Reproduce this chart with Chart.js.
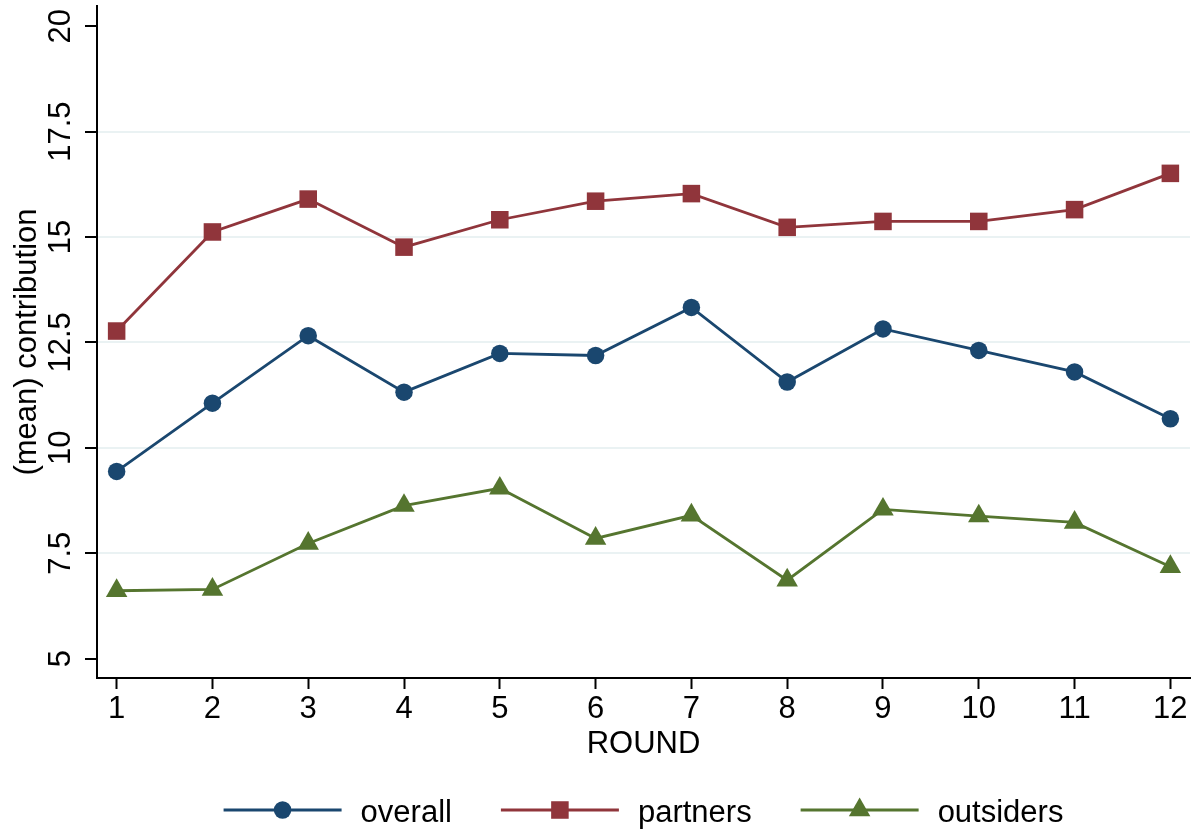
<!DOCTYPE html>
<html>
<head>
<meta charset="utf-8">
<title>Mean contribution by round</title>
<script src="https://cdn.jsdelivr.net/npm/chart.js@4.4.1/dist/chart.umd.min.js"></script>
<style>
  html, body { margin: 0; padding: 0; background: #fff; }
  canvas { display: block; }
</style>
</head>
<body>
<canvas id="contribChart" width="1195" height="829"></canvas>
<script>
// Mean contribution per round, by group
const rounds = [1, 2, 3, 4, 5, 6, 7, 8, 9, 10, 11, 12];
const overall = [9.44, 11.06, 12.66, 11.32, 12.24, 12.19, 13.33, 11.56, 12.82, 12.31, 11.80, 10.69];
const partners = [12.77, 15.12, 15.90, 14.76, 15.41, 15.85, 16.03, 15.23, 15.37, 15.37, 15.65, 16.51];
const outsiders = [6.61, 6.64, 7.73, 8.63, 9.04, 7.85, 8.40, 6.86, 8.54, 8.38, 8.23, 7.18];
const yTicks = [5, 7.5, 10, 12.5, 15, 17.5, 20];

const FONT = '"Liberation Sans", Arial, Helvetica, sans-serif';
const COLORS = { overall: '#1a476f', partners: '#90353b', outsiders: '#55752f' };

function series(label, values, color, style, radius) {
  return {
    label: label,
    data: rounds.map((r, i) => ({ x: r, y: values[i] })),
    borderColor: color,
    backgroundColor: color,
    borderWidth: 2.8,
    tension: 0,
    pointStyle: style,
    pointRadius: radius,
    pointHoverRadius: radius,
    pointBackgroundColor: color,
    pointBorderWidth: 0,
    clip: false
  };
}

// y tick labels are drawn rotated, reading bottom to top
const rotatedYTicks = {
  id: 'rotatedYTicks',
  afterDraw(chart) {
    const scale = chart.scales.y;
    const ctx = chart.ctx;
    ctx.save();
    ctx.fillStyle = '#000';
    ctx.font = '31px ' + FONT;
    ctx.textAlign = 'center';
    ctx.textBaseline = 'alphabetic';
    scale.ticks.forEach(t => {
      ctx.save();
      ctx.translate(scale.right - 27, scale.getPixelForValue(t.value));
      ctx.rotate(-Math.PI / 2);
      ctx.fillText(String(t.value), 0, 0);
      ctx.restore();
    });
    ctx.restore();
  }
};

// legend: line with marker in the middle, then the label
const lineLegend = {
  id: 'lineLegend',
  afterDraw(chart) {
    const ctx = chart.ctx;
    const area = chart.chartArea;
    const lineLen = 118, textGap = 19, itemGap = 49;
    const yMid = 810;
    ctx.save();
    ctx.font = '31px ' + FONT;
    const items = chart.data.datasets.map(ds => ({ ds: ds, w: ctx.measureText(ds.label).width }));
    const total = items.reduce((s, it) => s + lineLen + textGap + it.w, 0) + itemGap * (items.length - 1);
    let x = (area.left + area.right) / 2 - total / 2;
    items.forEach(it => {
      const ds = it.ds;
      ctx.strokeStyle = ds.borderColor;
      ctx.lineWidth = ds.borderWidth;
      ctx.beginPath();
      ctx.moveTo(x, yMid);
      ctx.lineTo(x + lineLen, yMid);
      ctx.stroke();
      ctx.fillStyle = ds.backgroundColor;
      Chart.helpers.drawPoint(ctx, { pointStyle: ds.pointStyle, radius: ds.pointRadius, rotation: 0, borderWidth: 0 }, x + lineLen / 2, yMid);
      ctx.fillStyle = '#000';
      ctx.textAlign = 'left';
      ctx.textBaseline = 'alphabetic';
      ctx.fillText(ds.label, x + lineLen + textGap, yMid + 11.5);
      x += lineLen + textGap + it.w + itemGap;
    });
    ctx.restore();
  }
};

const ctx = document.getElementById('contribChart').getContext('2d');
const contribChart = new Chart(ctx, {
  type: 'line',
  data: {
    datasets: [
      series('overall', overall, COLORS.overall, 'circle', 8.75),
      series('partners', partners, COLORS.partners, 'rect', 12.4),
      series('outsiders', outsiders, COLORS.outsiders, 'triangle', 12.4)
    ]
  },
  options: {
    responsive: false,
    animation: false,
    layout: { autoPadding: false, padding: { top: 6, right: 5, left: 0, bottom: 0 } },
    plugins: {
      legend: { display: false },
      tooltip: { enabled: false }
    },
    scales: {
      x: {
        type: 'linear',
        min: 0.795,
        max: 12.205,
        afterBuildTicks: scale => { scale.ticks = rounds.map(v => ({ value: v })); },
        afterFit: scale => { scale.height = 151; },
        border: { display: true, color: '#000', width: 2 },
        grid: { drawOnChartArea: false, tickLength: 11, tickColor: '#000', tickWidth: 2 },
        ticks: {
          autoSkip: false,
          maxRotation: 0,
          padding: 2,
          color: '#000',
          font: { family: FONT, size: 31 }
        },
        title: {
          display: true,
          text: 'ROUND',
          color: '#000',
          font: { family: FONT, size: 31 },
          padding: { top: 0, bottom: 66 }
        }
      },
      y: {
        min: 4.54,
        max: 20.48,
        afterBuildTicks: scale => { scale.ticks = yTicks.map(v => ({ value: v })); },
        afterFit: scale => { scale.width = 97; },
        border: { display: true, color: '#000', width: 2 },
        grid: {
          color: c => (c.tick && (c.tick.value === 5 || c.tick.value === 20)) ? 'rgba(0,0,0,0)' : 'rgb(234,242,243)',
          lineWidth: 2,
          tickLength: 12,
          tickColor: '#000',
          tickWidth: 2
        },
        ticks: { display: false },
        title: {
          display: true,
          text: '(mean) contribution',
          color: '#000',
          font: { family: FONT, size: 31 },
          padding: { top: 9, bottom: 0 }
        }
      }
    }
  },
  plugins: [rotatedYTicks, lineLegend]
});
</script>
</body>
</html>
